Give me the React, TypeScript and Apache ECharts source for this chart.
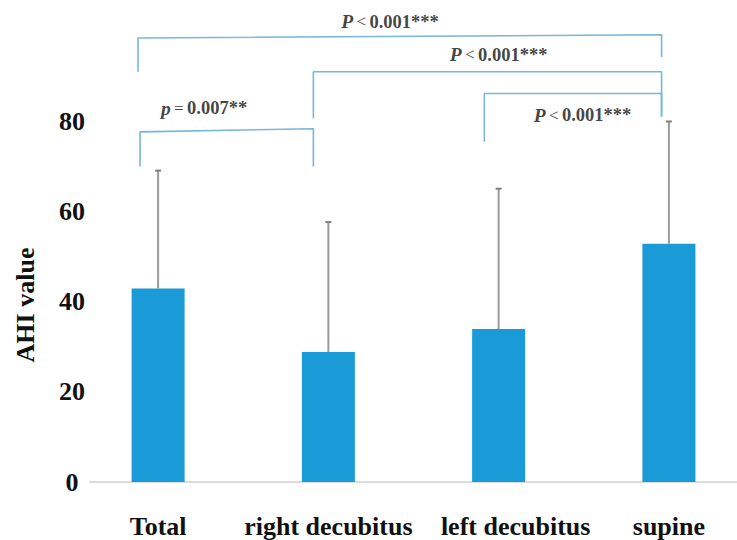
import React, { useEffect, useRef } from "react";
import * as echarts from "echarts";

const categories = ["Total", "right decubitus", "left decubitus", "supine"];
const means = [42.9, 28.8, 33.9, 52.8];
const sds = [26.1, 28.8, 31.1, 27.1];
const yTickMax = 80;

// significance brackets, in data coordinates [x (category index), y (AHI)]
const bracketTotalSupine = [[-0.118, 90.9], [-0.118, 98.4], [2.957, 99.1], [2.957, 94.2]];
const bracketRightSupine = [[0.912, 80.6], [0.912, 90.9], [2.957, 90.9], [2.957, 81.0]];
const bracketLeftSupine = [[1.916, 75.4], [1.916, 86.1], [2.957, 86.1], [2.957, 81.0]];
const bracketTotalRight = [[-0.106, 69.9], [-0.106, 77.6], [0.912, 78.3], [0.912, 69.9]];

// p-value annotations [x, y, text]
const pLabels = [
  [1.362, 102.0, "{i|P} {n|<} {b|0.001***}"],
  [2.0, 94.7, "{i|P} {n|<} {b|0.001***}"],
  [0.27, 82.8, "{i|p} {n|=} {b|0.007**}"],
  [2.493, 81.3, "{i|P} {n|<} {b|0.001***}"],
];

const SERIF = "'Liberation Serif', 'Times New Roman', serif";
const catFont = { fontFamily: SERIF, fontWeight: "bold", fontSize: 26, color: "#111" };

export default function App() {
  const ref = useRef<HTMLDivElement>(null);
  useEffect(() => {
    document.body.style.margin = "0";
    const chart = echarts.init(ref.current!, null, { renderer: "svg" });
    const bracketSeries = [bracketTotalSupine, bracketRightSupine, bracketLeftSupine, bracketTotalRight].map((d) => ({
      type: "line",
      data: d,
      showSymbol: false,
      symbol: "none",
      silent: true,
      clip: false,
      lineStyle: { color: "#78b6da", width: 1.6 },
      z: 3,
    }));
    chart.setOption({
      animation: false,
      backgroundColor: "#ffffff",
      grid: { left: 90, right: 0, top: 8.2, bottom: 58 },
      xAxis: {
        type: "value",
        min: -0.4,
        max: 3.4,
        axisLine: { show: true, lineStyle: { color: "#dcdcdc", width: 2 } },
        axisTick: { show: false },
        splitLine: { show: false },
        axisLabel: {
          customValues: [0, 1, 2, 3],
          formatter: (v: number) => {
            const i = Math.round(v);
            const name = categories[i] ?? "";
            return i === 2 ? `{s|${name}}` : `{c|${name}}`;
          },
          ...catFont,
          margin: 31,
          rich: {
            c: { ...catFont },
            s: { ...catFont, padding: [0, 0, 0, 34] },
          },
        },
      },
      yAxis: {
        type: "value",
        min: 0,
        max: 105,
        interval: 20,
        axisLine: { show: false },
        axisTick: { show: false },
        splitLine: { show: false },
        axisLabel: {
          formatter: (v: number) => (v <= yTickMax ? String(v) : ""),
          fontFamily: SERIF,
          fontWeight: "bold",
          fontSize: 26,
          color: "#111",
          align: "center",
          margin: 18,
        },
      },
      graphic: [
        {
          type: "text",
          x: 25,
          y: 305,
          rotation: Math.PI / 2,
          style: {
            text: "AHI value",
            fontFamily: SERIF,
            fontWeight: "bold",
            fontSize: 26,
            fill: "#111",
            align: "center",
            verticalAlign: "middle",
          },
        },
      ],
      series: [
        {
          type: "bar",
          data: means.map((m, i) => [i, m]),
          barWidth: 53,
          itemStyle: { color: "#1a9bd7" },
          silent: true,
        },
        {
          type: "custom",
          data: means.map((m, i) => [i, m, m + sds[i]]),
          renderItem: (params: any, api: any) => {
            const x = api.value(0);
            const lo = api.coord([x, api.value(1)]);
            const hi = api.coord([x, api.value(2)]);
            return {
              type: "group",
              children: [
                { type: "line", shape: { x1: lo[0], y1: lo[1], x2: hi[0], y2: hi[1] }, style: { stroke: "#9a9a9a", lineWidth: 2 } },
                { type: "line", shape: { x1: hi[0] - 3, y1: hi[1], x2: hi[0] + 3, y2: hi[1] }, style: { stroke: "#808080", lineWidth: 2 } },
              ],
            };
          },
          silent: true,
          z: 4,
        },
        ...bracketSeries,
        {
          type: "scatter",
          data: pLabels,
          symbolSize: 0,
          silent: true,
          clip: false,
          z: 5,
          label: {
            show: true,
            position: "inside",
            formatter: (p: any) => p.value[2],
            rich: {
              i: { fontFamily: SERIF, fontStyle: "italic", fontWeight: "bold", fontSize: 19.5, color: "#111" },
              n: { fontFamily: SERIF, fontSize: 17, color: "#111" },
              b: { fontFamily: SERIF, fontWeight: "bold", fontSize: 18.5, color: "#111" },
            },
          },
        },
      ],
    });
    return () => chart.dispose();
  }, []);
  return <div ref={ref} style={{ width: 737, height: 540 }} />;
}
